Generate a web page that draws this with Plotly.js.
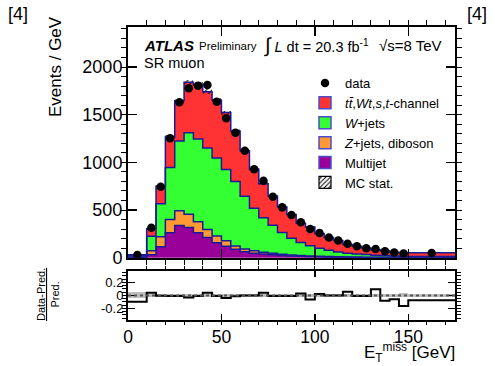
<!DOCTYPE html>
<html>
<head>
<meta charset="utf-8">
<script src="https://cdn.plot.ly/plotly-3.0.1.min.js"></script>
<style>html,body{margin:0;padding:0;background:#fff;}</style>
</head>
<body>
<div id="chart" style="width:495px;height:366px;"></div>
<script>
// ---- data (Events / GeV) ----
const binEdges = [0,10,15,20,25,30,35,40,45,50,55,60,65,70,75,80,85,90,95,100,105,110,115,120,125,130,135,140,145,150,175];
const dataEvents = [28,315,745,1253,1631,1777,1805,1812,1637,1463,1312,1122,927,808,640,528,448,372,302,258,211,180,146,119,100,92,68,55,43,49];
const multijet = [3,30,115,262,339,318,262,213,157,120,88,63,48,38,30,23,18,14,11,8,6,5,4,3,2.5,2,2,1.5,1.5,1];
const zjetsDiboson = [5,43,105,138,154,137,116,84,70,58,34,28,24,20,16,13,11,9,8,7,6,5,4,4,3.5,3,2,2.5,1.5,2];
const wjets = [12,152,345,545,732,855,867,853,818,747,678,554,448,362,294,229,176,137,106,83,66,50,40,33,27,22,19,15,13,9];
const topQuark = [11,78,185,320,422,530,575,592,610,597,528,477,407,357,306,268,247,201,198,155,133,120,90,80,68,57,51,39.5,35.5,41];
const mcStat = [1.3,6,12,18,22,24,24,23,22,21,19,17,15,13,12,10,9,8,7,6,5,4.5,4,3.5,3,2.5,2.2,1.8,1.6,1.3];
const ratioBand = [0.045,0.025,0.02,0.02,0.02,0.02,0.02,0.02,0.02,0.02,0.025,0.02,0.02,0.02,0.02,0.02,0.02,0.02,0.025,0.02,0.02,0.02,0.02,0.02,0.025,0.025,0.025,0.025,0.03,0.025];

const nb = binEdges.length - 1;
const centers = [], widths = [];
for (let i = 0; i < nb; i++) { centers.push((binEdges[i]+binEdges[i+1])/2); widths.push(binEdges[i+1]-binEdges[i]); }
const comps = [multijet, zjetsDiboson, wjets, topQuark];
const colors = ['#990099', '#ff9933', '#33ff33', '#ff3333'];
const names = ['Multijet', '<i>Z</i>+jets, diboson', '<i>W</i>+jets', '<i>t</i><i>t̄</i>,<i>Wt</i>,<i>s</i>,<i>t</i>-channel'];
const ranks = [5, 4, 3, 2];
const outline = '#1a1a99';
const font = 'Liberation Sans, Arial, Helvetica, sans-serif';

const traces = [];
let cum = new Array(nb).fill(0);
const cumLevels = [];
comps.forEach((c, k) => {
  traces.push({type:'bar', x:centers, y:c, base:cum.slice(), width:widths, xaxis:'x2', yaxis:'y',
    marker:{color:colors[k], line:{width:0}}, showlegend:false, hoverinfo:'skip'});
  cum = cum.map((v,i)=>v+c[i]);
  cumLevels.push(cum.slice());
});
const total = cum;
// MC stat hatch
traces.push({type:'bar', x:centers, y:mcStat.map(v=>2*v), base:total.map((t,i)=>t-mcStat[i]), width:widths,
  xaxis:'x2', yaxis:'y', marker:{color:'rgba(0,0,0,0)', line:{width:0}, pattern:{shape:'/', fgcolor:'#000', bgcolor:'rgba(0,0,0,0)', size:4, solidity:0.25}},
  showlegend:false, hoverinfo:'skip'});
// step outlines
cumLevels.forEach(level => {
  traces.push({type:'scatter', mode:'lines', x:binEdges, y:level.concat([level[nb-1]]), line:{shape:'hv', color:outline, width:1.5},
    xaxis:'x2', yaxis:'y', showlegend:false, hoverinfo:'skip'});
});
// data
traces.push({type:'scatter', mode:'markers', x:centers, y:dataEvents, xaxis:'x2', yaxis:'y',
  marker:{color:'#000', size:8.5}, name:'data', legendrank:1});
// legend dummies
comps.forEach((c,k) => {
  traces.push({type:'bar', x:[null], y:[null], xaxis:'x2', yaxis:'y', name:names[k], legendrank:ranks[k],
    marker:{color:colors[k], line:{color:'#4d4dcc', width:1.5}}});
});
traces.push({type:'bar', x:[null], y:[null], xaxis:'x2', yaxis:'y', name:'MC stat.', legendrank:6,
  marker:{color:'#fff', line:{color:'#000', width:1.2}, pattern:{shape:'/', fgcolor:'#000', bgcolor:'#fff', size:4, solidity:0.3}}});

// ratio panel
traces.push({type:'bar', x:centers, y:ratioBand.map(v=>2*v), base:ratioBand.map(v=>-v), width:widths, xaxis:'x', yaxis:'y2',
  marker:{color:'#bdbdbd', line:{width:0}}, showlegend:false, hoverinfo:'skip'});
const ratio = dataEvents.map((d,i)=>(d-total[i])/total[i]);
traces.push({type:'scatter', mode:'lines', x:binEdges, y:ratio.concat([ratio[nb-1]]), line:{shape:'hv', color:'#000', width:2},
  xaxis:'x', yaxis:'y2', showlegend:false, hoverinfo:'skip'});

const px = x => (x - 128) / 327;
const py = y => (320 - y) / 293;

const axisCommon = {ticks:'inside', showline:true, linewidth:2, linecolor:'#000', mirror:'allticks', showgrid:false, zeroline:false,
  tickcolor:'#000', tickfont:{family:font, size:18, color:'#000'}};

const layout = {
  width:495, height:366, margin:{l:128, r:40, t:27, b:46},
  paper_bgcolor:'#fff', plot_bgcolor:'#fff', barmode:'overlay', bargap:0,
  font:{family:font, color:'#000'},
  xaxis: Object.assign({}, axisCommon, {domain:[0,1], anchor:'y2', range:[0,175], dtick:50, ticklen:6, tickwidth:1.5,
    tickfont:{family:font, size:17.5, color:'#000'}, minor:{dtick:10, ticklen:3, tickwidth:1, tickcolor:'#000'}}),
  xaxis2: Object.assign({}, axisCommon, {domain:[0,1], anchor:'y', matches:'x', range:[0,175], dtick:50, ticklen:9, tickwidth:1.5,
    showticklabels:false, minor:{dtick:10, ticklen:5, tickwidth:1, tickcolor:'#000'}}),
  yaxis: Object.assign({}, axisCommon, {domain:[0.2126,1], anchor:'x2', range:[0,2420], dtick:500, ticklen:9, tickwidth:1.5,
    minor:{dtick:100, ticklen:5, tickwidth:1, tickcolor:'#000'}}),
  yaxis2: Object.assign({}, axisCommon, {domain:[0,0.168], anchor:'x', range:[-0.38,0.38], tickvals:[-0.2,0,0.2], ticktext:['-0.2','0','0.2'],
    ticklen:7, tickwidth:1.5, tickfont:{family:font, size:13, color:'#000'}, minor:{dtick:0.05, ticklen:4, tickwidth:1, tickcolor:'#000'}}),
  legend:{x:px(305), y:py(68), xanchor:'left', yanchor:'top', bgcolor:'rgba(0,0,0,0)', font:{family:font, size:13, color:'#000'},
    tracegroupgap:0, itemclick:false},
  shapes:[{type:'line', xref:'x domain', yref:'y2', x0:0, x1:1, y0:0, y1:0, line:{color:'#555', width:2, dash:'dot'}, layer:'above'}],
  annotations:[
    {xref:'paper', yref:'paper', x:px(6), y:py(14), xanchor:'left', yanchor:'middle', text:'[4]', showarrow:false, font:{family:font, size:18}},
    {xref:'paper', yref:'paper', x:px(489), y:py(14), xanchor:'right', yanchor:'middle', text:'[4]', showarrow:false, font:{family:font, size:18}},
    {xref:'paper', yref:'paper', x:px(142), y:py(45), xanchor:'left', yanchor:'middle', text:'<b><i>ATLAS</i></b>', showarrow:false, font:{family:font, size:15}},
    {xref:'paper', yref:'paper', x:px(197), y:py(46), xanchor:'left', yanchor:'middle', text:'Preliminary', showarrow:false, font:{family:font, size:11.5}},
    {xref:'paper', yref:'paper', x:px(262), y:py(46), xanchor:'left', yanchor:'middle', text:'<span style="font-size:20px">∫</span> <i>L</i> dt = 20.3 fb<sup>-1</sup>', showarrow:false, font:{family:font, size:14.5}},
    {xref:'paper', yref:'paper', x:px(377), y:py(45), xanchor:'left', yanchor:'middle', text:'√s=8 TeV', showarrow:false, font:{family:font, size:15}},
    {xref:'paper', yref:'paper', x:px(142), y:py(63), xanchor:'left', yanchor:'middle', text:'SR muon', showarrow:false, font:{family:font, size:14.5}},
    {xref:'paper', yref:'paper', x:px(55), y:py(67), xanchor:'center', yanchor:'middle', textangle:-90, text:'Events / GeV', showarrow:false, font:{family:font, size:17}},
    {xref:'paper', yref:'paper', x:px(48), y:py(295), xanchor:'center', yanchor:'middle', textangle:-90, text:'<u>Data-Pred.</u><br>Pred.', showarrow:false, font:{family:font, size:11}},
    {xref:'paper', yref:'paper', x:px(456), y:py(366), xanchor:'right', yanchor:'bottom', text:'E<sub>T</sub><sup>miss</sup> [GeV]', showarrow:false, font:{family:font, size:17}, borderpad:0}
  ]
};

Plotly.newPlot('chart', traces, layout, {staticPlot:true, displayModeBar:false});
</script>
</body>
</html>
